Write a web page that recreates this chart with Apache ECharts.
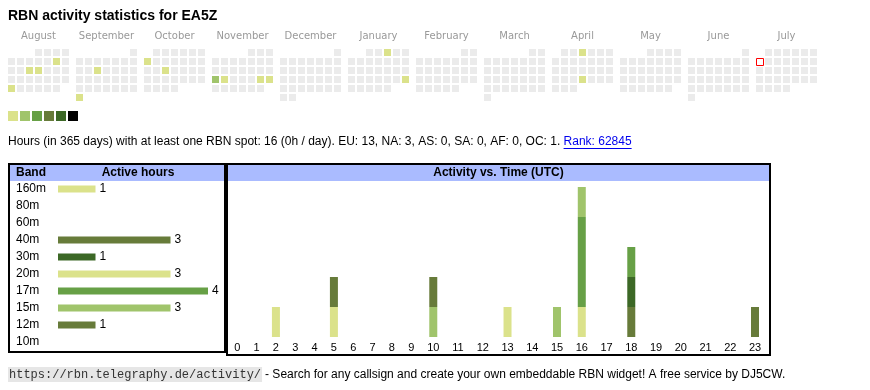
<!DOCTYPE html>
<html><head><meta charset="utf-8">
<script src="https://cdn.jsdelivr.net/npm/echarts@6/dist/echarts.min.js"></script>
<style>html,body{margin:0;padding:0;background:#fff}#c{width:870px;height:390px}</style>
</head><body><div id="c"></div>
<script>
// ---------- DATA ----------
const monthNames = ['August','September','October','November','December','January','February','March','April','May','June','July'];
const firstYear = 2024, firstMonth = 7; // August 2024 (0-based month)
const activeDays = ['2024-08-10','2024-08-14','2024-08-15','2024-08-26','2024-09-11','2024-09-30','2024-10-07','2024-10-16','2024-11-18','2024-11-19','2024-11-23','2024-11-24','2025-01-03','2025-01-26','2025-04-03','2025-04-24'];
const activeLevels = [1,1,1,1,1,1,1,1,2,1,1,1,1,1,1,1];
const todayDate = '2025-07-07';

const bands = ['160m','80m','60m','40m','30m','20m','17m','15m','12m','10m'];
const bandHours = [1,0,0,3,1,3,4,3,1,0];
const hourLabels = ['0','1','2','3','4','5','6','7','8','9','10','11','12','13','14','15','16','17','18','19','20','21','22','23'];
//             0 1 2 3 4 5 6 7 8 9 10 11 12 13 14 15 16 17 18 19 20 21 22 23
const h160m = [0,0,0,0,0,1,0,0,0,0, 0, 0, 0, 0, 0, 0, 0, 0, 0, 0, 0, 0, 0, 0];
const h80m  = [0,0,0,0,0,0,0,0,0,0, 0, 0, 0, 0, 0, 0, 0, 0, 0, 0, 0, 0, 0, 0];
const h60m  = [0,0,0,0,0,0,0,0,0,0, 0, 0, 0, 0, 0, 0, 0, 0, 0, 0, 0, 0, 0, 0];
const h40m  = [0,0,0,0,0,1,0,0,0,0, 0, 0, 0, 0, 0, 0, 0, 0, 1, 0, 0, 0, 0, 1];
const h30m  = [0,0,0,0,0,0,0,0,0,0, 0, 0, 0, 0, 0, 0, 0, 0, 1, 0, 0, 0, 0, 0];
const h20m  = [0,0,1,0,0,0,0,0,0,0, 0, 0, 0, 1, 0, 0, 1, 0, 0, 0, 0, 0, 0, 0];
const h17m  = [0,0,0,0,0,0,0,0,0,0, 0, 0, 0, 0, 0, 0, 3, 0, 1, 0, 0, 0, 0, 0];
const h15m  = [0,0,0,0,0,0,0,0,0,0, 1, 0, 0, 0, 0, 1, 1, 0, 0, 0, 0, 0, 0, 0];
const h12m  = [0,0,0,0,0,0,0,0,0,0, 1, 0, 0, 0, 0, 0, 0, 0, 0, 0, 0, 0, 0, 0];
const h10m  = [0,0,0,0,0,0,0,0,0,0, 0, 0, 0, 0, 0, 0, 0, 0, 0, 0, 0, 0, 0, 0];
const hourlyByBand = [h160m,h80m,h60m,h40m,h30m,h20m,h17m,h15m,h12m,h10m];

const statsText = 'Hours (in 365 days) with at least one RBN spot: 16 (0h / day). EU: 13, NA: 3, AS: 0, SA: 0, AF: 0, OC: 1. ';
const rankText = 'Rank: 62845';

// ---------- STYLE ----------
const levelColors = ['#ebebeb','#dbe28b','#a0c46b','#67a046','#677b3a','#3c6826','#000000'];
const bandColors = ['#dbe28b','#a0c46b','#67a046','#677b3a','#3c6826','#dbe28b','#67a046','#a0c46b','#677b3a','#3c6826'];
const SANS = "'Liberation Sans', Arial, Helvetica, sans-serif";
const MONO = "'Liberation Mono', 'Courier New', monospace";
const headerBlue = '#aabbff';

// calendar layout (units: one cell column)
const monthPitch = 68 / 9;       // 7 columns + gap
const cellFill = 7 / 9;
const blockCenter = (7 - 2 / 9) / 2;
const calMax = 12 * monthPitch - 5 / 9;

// time-axis column layout (HTML-table-like widths depending on label length)
const digitW = 5.42, cellPad = 13.91;
const hourPos = [];
let acc = 0;
hourLabels.forEach(l => { const w = cellPad + digitW * l.length; hourPos.push(acc + w / 2); acc += w; });
const timeTotal = acc;

// ---------- BUILD CALENDAR CELLS ----------
function pad(n){return (n<10?'0':'')+n;}
const cells = [];
for (let m = 0; m < 12; m++) {
  const y = firstYear + Math.floor((firstMonth + m) / 12);
  const mo = (firstMonth + m) % 12;
  const first = new Date(y, mo, 1);
  const firstDow = (first.getDay() + 6) % 7;
  const nDays = new Date(y, mo + 1, 0).getDate();
  for (let d = 1; d <= nDays; d++) {
    const idx = firstDow + d - 1;
    const row = Math.floor(idx / 7), col = idx % 7;
    const key = y + '-' + pad(mo + 1) + '-' + pad(d);
    const ai = activeDays.indexOf(key);
    const lvl = ai >= 0 ? activeLevels[ai] : 0;
    cells.push([m * monthPitch + col, row, lvl, key === todayDate ? 1 : 0]);
  }
}
const monthCenters = monthNames.map((_, m) => m * monthPitch + blockCenter);

// ---------- STACKED HOURLY SEGMENTS ----------
const segments = [];
const stackTop = hourLabels.map(() => 0);
hourlyByBand.forEach((arr, b) => {
  arr.forEach((v, h) => {
    if (v > 0) {
      segments.push([hourPos[h], stackTop[h], stackTop[h] + v, b]);
      stackTop[h] += v;
    }
  });
});

// ---------- MEASURE ----------
const mctx = document.createElement('canvas').getContext('2d');
function tw(str, font){ mctx.font = font; return mctx.measureText(str).width; }
const statsFont = '12px ' + SANS;
const statsW = tw(statsText, statsFont);
const rankW = tw(rankText, statsFont);
const monoFont = '12px ' + MONO;
const urlText = 'https://rbn.telegraphy.de/activity/';
const urlW = tw(urlText, monoFont);

const chart = echarts.init(document.getElementById('c'), null, {renderer: 'canvas'});

const option = {
  animation: false,
  backgroundColor: '#fff',
  grid: [
    {left: 8, top: 49, width: 811, height: 54},
    {left: 58, top: 180.5, width: 150, height: 170},
    {left: 227.6, top: 187, width: timeTotal, height: 150}
  ],
  xAxis: [
    {gridIndex: 0, type: 'value', min: 0, max: calMax, position: 'top',
     axisLine: {show: false}, axisTick: {show: false}, splitLine: {show: false},
     axisLabel: {customValues: monthCenters, margin: 8, color: '#999', fontSize: 10, fontFamily: "'DejaVu Sans', sans-serif",
       formatter: v => { const i = monthCenters.findIndex(c => Math.abs(c - v) < 1e-6); return i >= 0 ? monthNames[i] : ''; }}},
    {gridIndex: 1, type: 'value', min: 0, max: 4, show: false},
    {gridIndex: 2, type: 'value', min: 0, max: timeTotal,
     axisLine: {show: false}, axisTick: {show: false}, splitLine: {show: false},
     axisLabel: {customValues: hourPos, margin: 5, color: '#000', fontSize: 11, fontFamily: SANS,
       formatter: v => { const i = hourPos.findIndex(c => Math.abs(c - v) < 1e-6); return i >= 0 ? hourLabels[i] : ''; }}}
  ],
  yAxis: [
    {gridIndex: 0, type: 'value', min: 0, max: 6, inverse: true, show: false},
    {gridIndex: 1, type: 'category', data: bands, inverse: true,
     axisLine: {show: false}, axisTick: {show: false}, splitLine: {show: false},
     axisLabel: {align: 'left', margin: 42, color: '#000', fontSize: 12, fontFamily: SANS}},
    {gridIndex: 2, type: 'value', min: 0, max: 5, show: false}
  ],
  series: [
    {type: 'custom', xAxisIndex: 0, yAxisIndex: 0, data: cells, encode: {x: 0, y: 1},
     renderItem: (params, api) => {
       const p = api.coord([api.value(0), api.value(1)]);
       const s = api.size([1, 1]);
       const isToday = api.value(3) === 1;
       const w = s[0] * cellFill, h = s[1] * cellFill;
       if (isToday) {
         return {type: 'rect', shape: {x: p[0] + 0.5, y: p[1] + 0.5, width: w, height: h},
                 style: {fill: '#fff', stroke: '#ff0000', lineWidth: 1}};
       }
       return {type: 'rect', shape: {x: p[0], y: p[1], width: w, height: h},
               style: {fill: levelColors[api.value(2)]}};
     }},
    {type: 'bar', xAxisIndex: 1, yAxisIndex: 1, barWidth: 7,
     data: bandHours.map((v, i) => ({value: v, itemStyle: {color: bandColors[i]}})),
     label: {show: true, position: 'right', distance: 4, color: '#000', fontSize: 12, fontFamily: SANS,
             formatter: p => p.value > 0 ? String(p.value) : ''}},
    {type: 'custom', xAxisIndex: 2, yAxisIndex: 2, data: segments, encode: {x: 0, y: [1, 2]},
     renderItem: (params, api) => {
       const p0 = api.coord([api.value(0), api.value(1)]);
       const p1 = api.coord([api.value(0), api.value(2)]);
       return {type: 'rect', shape: {x: p0[0] - 4, y: p1[1], width: 8, height: p0[1] - p1[1]},
               style: {fill: bandColors[api.value(3)]}};
     }}
  ],
  graphic: [
    {type: 'text', x: 8, y: 16, style: {text: 'RBN activity statistics for EA5Z', font: 'bold 14px ' + SANS, fill: '#000', verticalAlign: 'middle', textVerticalAlign: 'middle'}},
    ...levelColors.slice(1).map((c, i) => ({type: 'rect', shape: {x: 8 + 12 * i, y: 111, width: 10, height: 10}, style: {fill: c}})),
    {type: 'text', x: 8, y: 142, style: {text: statsText, font: statsFont, fill: '#000', verticalAlign: 'middle', textVerticalAlign: 'middle'}},
    {type: 'text', x: 8 + statsW, y: 142, style: {text: rankText, font: statsFont, fill: '#0000ee', verticalAlign: 'middle', textVerticalAlign: 'middle'}},
    {type: 'line', shape: {x1: 8 + statsW, y1: 148.5, x2: 8 + statsW + rankW, y2: 148.5}, style: {stroke: '#0000ee', lineWidth: 1}},
    // table headers
    {type: 'rect', z: -1, shape: {x: 10, y: 165, width: 214, height: 16}, style: {fill: headerBlue}},
    {type: 'rect', z: -1, shape: {x: 228, y: 165, width: 541, height: 16}, style: {fill: headerBlue}},
    {type: 'text', x: 16, y: 173, style: {text: 'Band', font: 'bold 12px ' + SANS, fill: '#000', verticalAlign: 'middle', textVerticalAlign: 'middle'}},
    {type: 'text', x: 138, y: 173, style: {text: 'Active hours', font: 'bold 12px ' + SANS, fill: '#000', align: 'center', textAlign: 'center', verticalAlign: 'middle', textVerticalAlign: 'middle'}},
    {type: 'text', x: 498.5, y: 173, style: {text: 'Activity vs. Time (UTC)', font: 'bold 12px ' + SANS, fill: '#000', align: 'center', textAlign: 'center', verticalAlign: 'middle', textVerticalAlign: 'middle'}},
    // boxes
    {type: 'rect', shape: {x: 9, y: 164, width: 216, height: 188}, style: {fill: 'none', stroke: '#000', lineWidth: 2}},
    {type: 'rect', shape: {x: 227, y: 164, width: 543, height: 191}, style: {fill: 'none', stroke: '#000', lineWidth: 2}},
    // footer
    {type: 'rect', shape: {x: 8, y: 367, width: urlW + 2, height: 15}, style: {fill: '#e6e6e6'}},
    {type: 'text', x: 9, y: 374.5, style: {text: urlText, font: monoFont, fill: '#333', verticalAlign: 'middle', textVerticalAlign: 'middle'}},
    {type: 'text', x: 8 + urlW + 5, y: 374.5, style: {text: '- Search for any callsign and create your own embeddable RBN widget! A free service by DJ5CW.', font: '12px ' + SANS, fill: '#000', verticalAlign: 'middle', textVerticalAlign: 'middle'}}
  ]
};
chart.setOption(option);
</script>
</body></html>
